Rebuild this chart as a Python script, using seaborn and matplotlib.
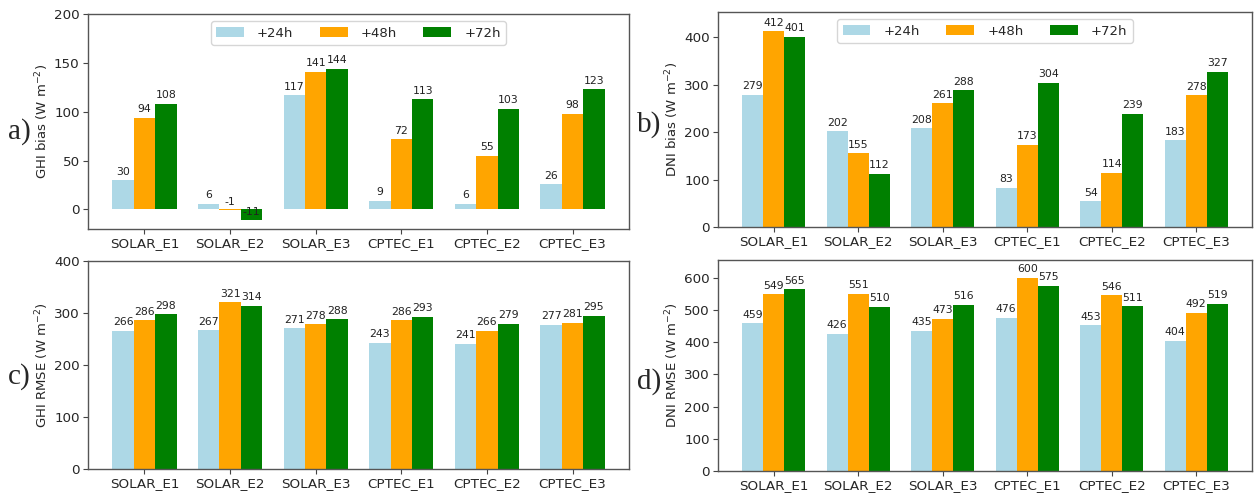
import matplotlib
matplotlib.use("Agg")
import matplotlib.pyplot as plt
import seaborn as sns
import pandas as pd

categories = ["SOLAR_E1", "SOLAR_E2", "SOLAR_E3", "CPTEC_E1", "CPTEC_E2", "CPTEC_E3"]
leads = ["+24h", "+48h", "+72h"]

ghi_bias_24 = [30, 6, 117, 9, 6, 26]
ghi_bias_48 = [94, -1, 141, 72, 55, 98]
ghi_bias_72 = [108, -11, 144, 113, 103, 123]

dni_bias_24 = [279, 202, 208, 83, 54, 183]
dni_bias_48 = [412, 155, 261, 173, 114, 278]
dni_bias_72 = [401, 112, 288, 304, 239, 327]

ghi_rmse_24 = [266, 267, 271, 243, 241, 277]
ghi_rmse_48 = [286, 321, 278, 286, 266, 281]
ghi_rmse_72 = [298, 314, 288, 293, 279, 295]

dni_rmse_24 = [459, 426, 435, 476, 453, 404]
dni_rmse_48 = [549, 551, 473, 600, 546, 492]
dni_rmse_72 = [565, 510, 516, 575, 511, 519]

colors = ["#add8e6", "#ffa500", "#008000"]

sns.set_style("ticks")
plt.rcParams["font.family"] = ["DejaVu Sans"]


def make_df(s24, s48, s72):
    rows = []
    for lead, series in zip(leads, [s24, s48, s72]):
        for c, v in zip(categories, series):
            rows.append({"cat": c, "lead": lead, "value": v})
    return pd.DataFrame(rows)


fig = plt.figure(figsize=(12.59, 4.97), dpi=100)

W, H = 1259, 497


def rect(l, t, r, b):
    return [l / W, 1 - b / H, (r - l) / W, (b - t) / H]


panels = [
    (rect(88, 14, 629, 229), make_df(ghi_bias_24, ghi_bias_48, ghi_bias_72),
     "GHI bias (W m$^{-2}$)", (-20, 200), [0, 50, 100, 150, 200], True),
    (rect(718, 12, 1252, 227), make_df(dni_bias_24, dni_bias_48, dni_bias_72),
     "DNI bias (W m$^{-2}$)", (0, 453), [0, 100, 200, 300, 400], True),
    (rect(88, 261, 629, 469), make_df(ghi_rmse_24, ghi_rmse_48, ghi_rmse_72),
     "GHI RMSE (W m$^{-2}$)", (0, 400), [0, 100, 200, 300, 400], False),
    (rect(718, 260, 1252, 471), make_df(dni_rmse_24, dni_rmse_48, dni_rmse_72),
     "DNI RMSE (W m$^{-2}$)", (0, 655), [0, 100, 200, 300, 400, 500, 600], False),
]

for pos, df, ylabel, ylim, yticks, legend in panels:
    ax = fig.add_axes(pos)
    sns.barplot(data=df, x="cat", y="value", hue="lead", palette=colors,
                width=0.75, gap=0, ax=ax, errorbar=None, saturation=1,
                edgecolor="none", linewidth=0)
    for cont in ax.containers:
        for p in cont:
            h = p.get_height()
            ax.annotate(f"{int(round(h))}", (p.get_x() + p.get_width() / 2, h),
                        xytext=(0, 2.5), textcoords="offset points",
                        ha="center", va="bottom", fontsize=7.8, color="#222222")
    ax.set_xlim(-0.66, 5.66)
    ax.set_ylim(*ylim)
    ax.set_yticks(yticks)
    ax.set_xlabel("")
    ax.set_ylabel(ylabel, fontsize=9.5)
    ax.yaxis.set_label_coords(-0.069, 0.5)
    ax.tick_params(axis="both", labelsize=9.7, length=3.5, pad=2.5,
                   color="#444444")
    for s in ax.spines.values():
        s.set_color("#555555")
        s.set_linewidth(1.0)
    if legend:
        ax.legend(loc="upper center", ncol=3, fontsize=9.5, title=None,
                  handlelength=2.1, handletextpad=1.0, columnspacing=2.0,
                  frameon=True, borderaxespad=0.55)
    else:
        lg = ax.get_legend()
        if lg is not None:
            lg.remove()

serif = ["Liberation Serif", "DejaVu Serif"]
for lbl, x, y in [("a)", 8, 132), ("b)", 637, 125), ("c)", 8, 377), ("d)", 637, 382)]:
    fig.text(x / W, 1 - y / H, lbl, family=serif, fontsize=21, ha="left", va="center")

fig.savefig("out.png", dpi=100)
